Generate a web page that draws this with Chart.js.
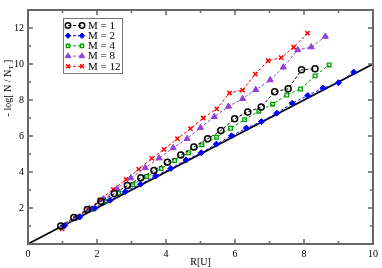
<!DOCTYPE html>
<html>
  <head>
    <script src="https://cdn.jsdelivr.net/npm/chart.js"></script>
    <style>
      body { margin: 0; background: white; }
      #wrap { width: 382px; height: 268px; }
    </style>
  </head>
  <body>
    <div id="wrap"><canvas id="chart" width="382" height="268"></canvas></div>
  </body>
  <script>
    // values
    var m1_x = [0.95, 1.33, 1.72, 2.11, 2.50, 2.88, 3.27, 3.65, 4.04, 4.43, 4.81, 5.21, 5.59, 5.99, 6.37, 6.76, 7.15, 7.54, 7.93, 8.32];
    var m1_y = [1.00, 1.47, 1.92, 2.37, 2.80, 3.25, 3.68, 4.09, 4.54, 4.94, 5.39, 5.85, 6.30, 6.96, 7.34, 7.61, 8.46, 8.62, 9.68, 9.73];
    var m2_x = [1.06, 1.50, 1.94, 2.38, 2.82, 3.26, 3.70, 4.14, 4.58, 5.02, 5.46, 5.90, 6.33, 6.77, 7.21, 7.66, 8.11, 8.55, 9.00, 9.44];
    var m2_y = [1.02, 1.50, 1.98, 2.43, 2.90, 3.32, 3.78, 4.20, 4.66, 5.07, 5.55, 6.01, 6.44, 6.80, 7.27, 7.82, 8.25, 8.66, 8.96, 9.55];
    var m4_x = [1.02, 1.43, 1.84, 2.25, 2.63, 3.04, 3.44, 3.86, 4.25, 4.66, 5.04, 5.46, 5.87, 6.28, 6.69, 7.09, 7.50, 7.90, 8.32, 8.73];
    var m4_y = [1.02, 1.48, 1.93, 2.36, 2.84, 3.30, 3.75, 4.19, 4.64, 5.07, 5.52, 5.93, 6.43, 6.91, 7.38, 7.77, 8.28, 8.61, 9.34, 9.95];
    var m8_x = [0.98, 1.38, 1.78, 2.19, 2.58, 2.98, 3.40, 3.80, 4.21, 4.61, 5.00, 5.40, 5.81, 6.22, 6.60, 7.02, 7.40, 7.82, 8.21, 8.62];
    var m8_y = [0.95, 1.45, 1.97, 2.50, 3.07, 3.66, 4.23, 4.77, 5.34, 5.85, 6.46, 7.07, 7.64, 8.07, 8.57, 9.11, 9.82, 10.78, 10.94, 11.53];
    var m12_x = [0.99, 1.37, 1.75, 2.09, 2.47, 2.84, 3.21, 3.59, 3.94, 4.33, 4.71, 5.08, 5.47, 5.84, 6.22, 6.59, 6.96, 7.34, 7.70, 8.10];
    var m12_y = [0.84, 1.43, 1.91, 2.47, 3.03, 3.59, 4.16, 4.76, 5.26, 5.85, 6.41, 7.00, 7.51, 8.39, 8.55, 9.44, 10.18, 10.35, 10.93, 11.71];
    var ref_x = [0, 10];
    var ref_y = [0, 10];

    var labels = ["M = 1", "M = 2", "M = 4", "M = 8", "M = 12"];
    var x_ticks = [0, 2, 4, 6, 8, 10];
    var y_ticks = [2, 4, 6, 8, 10, 12];

    function pts(xs, ys) {
      var out = [];
      for (let i = 0; i < xs.length; i++) out.push({ x: xs[i], y: ys[i] });
      return out;
    }

    var styles = [
      { color: "#000000", fill: "rgba(0,0,0,0)", point: "circle", r: 3, bw: 1.5 },
      { color: "#0000ff", fill: "#0000ff", point: "rectRot", r: 3, bw: 1 },
      { color: "#00a000", fill: "rgba(0,0,0,0)", point: "rect", r: 2.6, bw: 1.3 },
      { color: "#9040d8", fill: "#9040d8", point: "triangle", r: 3.5, bw: 1 },
      { color: "#ff0000", fill: "#ff0000", point: "crossRot", r: 3, bw: 1.5 },
    ];
    var series = [pts(m1_x, m1_y), pts(m2_x, m2_y), pts(m4_x, m4_y), pts(m8_x, m8_y), pts(m12_x, m12_y)];

    var sets = [];
    for (let i = 0; i < series.length; i++) {
      sets.push({
        label: labels[i],
        data: series[i],
        showLine: true,
        borderColor: styles[i].color,
        borderWidth: 1,
        borderDash: [3, 2],
        pointStyle: styles[i].point,
        pointRadius: styles[i].r,
        pointBorderColor: styles[i].color,
        pointBackgroundColor: styles[i].fill,
        pointBorderWidth: styles[i].bw,
      });
    }
    sets.push({
      label: "ref",
      data: pts(ref_x, ref_y),
      showLine: true,
      borderColor: "#000000",
      borderWidth: 1.6,
      pointRadius: 0,
    });

    var serif = "'Liberation Serif', 'DejaVu Serif', serif";

    // inward ticks on all four sides, frame, y title and legend
    var frame = {
      id: "frame",
      afterDraw(chart) {
        var ctx = chart.ctx;
        var a = chart.chartArea;
        var xs = chart.scales.x, ys = chart.scales.y;
        ctx.save();
        ctx.strokeStyle = "#666666";
        ctx.lineWidth = 1.5;
        for (let v = 0; v <= 10; v++) {
          var px = xs.getPixelForValue(v);
          var len = v % 2 == 0 ? 5 : 3;
          ctx.beginPath();
          ctx.moveTo(px, a.bottom); ctx.lineTo(px, a.bottom - len);
          ctx.moveTo(px, a.top); ctx.lineTo(px, a.top + len);
          ctx.stroke();
        }
        for (let v = 0; v <= 13; v++) {
          var py = ys.getPixelForValue(v);
          var len = v % 2 == 0 ? 5 : 3;
          ctx.beginPath();
          ctx.moveTo(a.left, py); ctx.lineTo(a.left + len, py);
          ctx.moveTo(a.right, py); ctx.lineTo(a.right - len, py);
          ctx.stroke();
        }
        ctx.lineWidth = 2;
        ctx.strokeRect(a.left, a.top, a.right - a.left, a.bottom - a.top);

        // y title with subscript
        ctx.fillStyle = "#000";
        ctx.translate(8, 88);
        ctx.rotate(-Math.PI / 2);
        ctx.textBaseline = "middle";
        ctx.textAlign = "left";
        ctx.font = "10px " + serif;
        var t1 = "- log[ N / N";
        var w1 = ctx.measureText(t1).width;
        ctx.font = "7px " + serif;
        var w2 = ctx.measureText("T").width;
        ctx.font = "10px " + serif;
        var t3 = " ]";
        var w3 = ctx.measureText(t3).width;
        var start = -(w1 + w2 + w3) / 2;
        ctx.fillText(t1, start, 0);
        ctx.font = "7px " + serif;
        ctx.fillText("T", start + w1, 3);
        ctx.font = "10px " + serif;
        ctx.fillText(t3, start + w1 + w2, 0);
        ctx.restore();

        // legend box
        ctx.save();
        var bx = 63, by = 18, bw = 59, bh = 55;
        ctx.fillStyle = "#fff";
        ctx.fillRect(bx, by, bw, bh);
        ctx.strokeStyle = "#777";
        ctx.lineWidth = 1;
        ctx.strokeRect(bx + 0.5, by + 0.5, bw, bh);
        for (let i = 0; i < labels.length; i++) {
          var ry = by + 7.5 + i * 10.2;
          var st = styles[i];
          ctx.strokeStyle = st.color;
          ctx.lineWidth = 1;
          ctx.setLineDash([3, 2]);
          ctx.beginPath();
          ctx.moveTo(bx + 5, ry); ctx.lineTo(bx + 19, ry);
          ctx.stroke();
          ctx.setLineDash([]);
          var opt = { pointStyle: st.point, radius: st.r * 0.9, borderWidth: st.bw };
          ctx.fillStyle = st.fill;
          ctx.strokeStyle = st.color;
          ctx.lineWidth = st.bw;
          Chart.helpers.drawPoint(ctx, opt, bx + 5, ry);
          ctx.fillStyle = st.fill;
          ctx.strokeStyle = st.color;
          ctx.lineWidth = st.bw;
          Chart.helpers.drawPoint(ctx, opt, bx + 19, ry);
          ctx.fillStyle = "#000";
          ctx.font = "11px " + serif;
          ctx.textBaseline = "middle";
          ctx.textAlign = "left";
          ctx.fillText(labels[i], bx + 25, ry + 0.5);
        }
        ctx.restore();
      },
    };

    var chart = new Chart(document.getElementById("chart").getContext("2d"), {
      type: "scatter",
      data: { datasets: sets },
      plugins: [frame],
      options: {
        responsive: false,
        animation: false,
        layout: { padding: { top: 1, right: 7, left: 0, bottom: 0 } },
        plugins: { legend: { display: false }, tooltip: { enabled: false } },
        scales: {
          x: {
            type: "linear",
            min: 0,
            max: 10,
            afterFit(s) { s.height = 24; },
            grid: { display: false, drawTicks: false, tickLength: 0 },
            border: { display: false },
            title: { display: true, text: "R[U]", color: "#000", font: { family: serif, size: 10 }, padding: { top: 0, bottom: 0 } },
            ticks: {
              stepSize: 2,
              padding: 4,
              color: "#000",
              maxRotation: 0,
              font: { family: serif, size: 10 },
              callback: function (v) { return x_ticks.indexOf(v) >= 0 ? v : ""; },
            },
          },
          y: {
            type: "linear",
            min: 0,
            max: 13,
            afterFit(s) { s.width = 28; },
            grid: { display: false, drawTicks: false, tickLength: 0 },
            border: { display: false },
            ticks: {
              stepSize: 2,
              padding: 4,
              color: "#000",
              font: { family: serif, size: 10 },
              callback: function (v) { return y_ticks.indexOf(v) >= 0 ? v : ""; },
            },
          },
        },
      },
    });
  </script>
</html>
